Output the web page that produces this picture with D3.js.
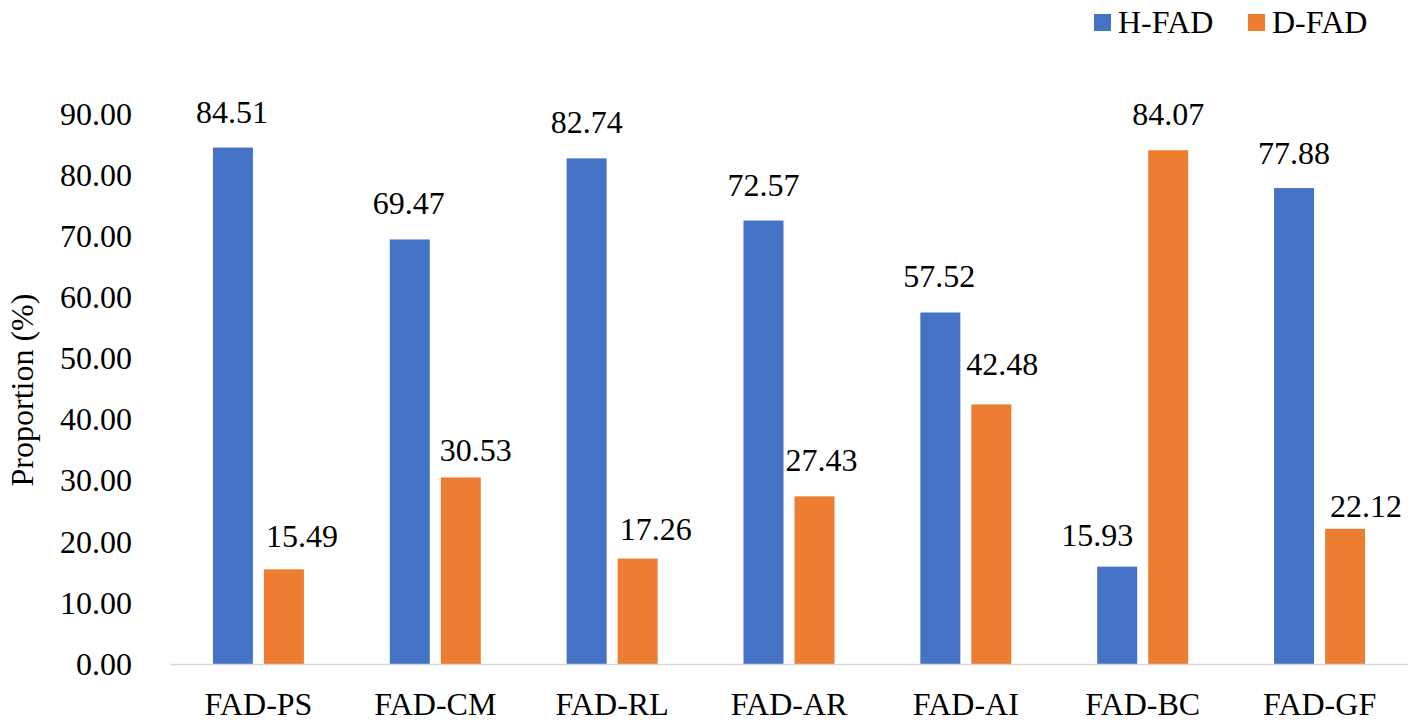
<!DOCTYPE html>
<head>
<meta charset="utf-8">
<style>
body { margin: 0; background: #fff; }
svg text { font-family: "Liberation Serif", Tinos, "Times New Roman", "DejaVu Serif", serif !important; fill: #000; }
.axis text { font-size: 32px; }
.x-axis path { stroke: #d9d9d9; stroke-width: 1.5px; }
.y-axis path { display: none; }
.label { font-size: 32px; }
</style>
</head>
<body>

<script src="https://cdn.jsdelivr.net/npm/d3@7"></script>
<script>
// chart values
var categories = ["FAD-PS", "FAD-CM", "FAD-RL", "FAD-AR", "FAD-AI", "FAD-BC", "FAD-GF"];
var seriesNames = ["H-FAD", "D-FAD"];
var hFad = [84.51, 69.47, 82.74, 72.57, 57.52, 15.93, 77.88];
var dFad = [15.49, 30.53, 17.26, 27.43, 42.48, 84.07, 22.12];
var yTicks = [0, 10, 20, 30, 40, 50, 60, 70, 80, 90];

var colors = { "H-FAD": "#4472c4", "D-FAD": "#ed7d31" };

// data labels were dragged around a bit in the original, nudge them the same way
var labelDx = { "H-FAD": [-1, -1, 0, 0, -1, -20, 0], "D-FAD": [18, 15, 18, 7, 11, 0, 21] };
var labelGap = { "H-FAD": [25, 25, 25, 25, 25, 21, 24], "D-FAD": [22, 16, 19, 25, 29, 25, 12] };

var width = 1417, height = 725;

var svg = d3.select("body").append("svg")
  .attr("width", width)
  .attr("height", height)
  .attr("font-family", "Liberation Serif, serif");

var x = d3.scaleBand()
  .domain(categories)
  .range([170, 1408]);

var y = d3.scaleLinear()
  .domain([0, 90])
  .range([664, 114]);

var groupW = 91;
var xInner = d3.scaleBand()
  .domain(seriesNames)
  .range([0, groupW])
  .paddingInner(0.216);

var rows = [];
categories.forEach(function(c, i) {
  rows.push({ cat: c, i: i, series: "H-FAD", value: hFad[i] });
  rows.push({ cat: c, i: i, series: "D-FAD", value: dFad[i] });
});

function barX(d) {
  return x(d.cat) + (x.bandwidth() - groupW) / 2 + xInner(d.series);
}

// y axis
svg.append("g")
  .attr("class", "axis y-axis")
  .attr("transform", "translate(170,0)")
  .call(d3.axisLeft(y).tickValues(yTicks).tickFormat(d3.format(".2f")).tickSize(0).tickPadding(38))
  .attr("font-family", null);

// bars
svg.append("g").selectAll("rect")
  .data(rows)
  .enter().append("rect")
  .attr("x", barX)
  .attr("width", xInner.bandwidth())
  .attr("y", function(d) { return y(d.value); })
  .attr("height", function(d) { return y(0) - y(d.value); })
  .attr("fill", function(d) { return colors[d.series]; });

// x axis
svg.append("g")
  .attr("class", "axis x-axis")
  .attr("transform", "translate(0," + y(0) + ")")
  .call(d3.axisBottom(x).tickSize(0).tickSizeOuter(0).tickPadding(28))
  .attr("font-family", null);

// value labels
svg.append("g").selectAll("text")
  .data(rows)
  .enter().append("text")
  .attr("class", "label")
  .attr("text-anchor", "middle")
  .attr("x", function(d) { return barX(d) + xInner.bandwidth() / 2 + labelDx[d.series][d.i]; })
  .attr("y", function(d) { return y(d.value) - labelGap[d.series][d.i]; })
  .text(function(d) { return d3.format(".2f")(d.value); });

// y title
svg.append("text")
  .attr("transform", "translate(33,390) rotate(-90)")
  .attr("text-anchor", "middle")
  .style("font-size", "32px")
  .text("Proportion (%)");

// legend
var legendX = [1094, 1248];
var legend = svg.append("g").selectAll("g")
  .data(seriesNames)
  .enter().append("g")
  .attr("transform", function(d, i) { return "translate(" + legendX[i] + ",0)"; });

legend.append("rect")
  .attr("x", 0)
  .attr("y", 14)
  .attr("width", 17)
  .attr("height", 17)
  .attr("fill", function(d) { return colors[d]; });

legend.append("text")
  .attr("x", 24)
  .attr("y", 33)
  .style("font-size", "32px")
  .text(function(d) { return d; });
</script>
</body>
